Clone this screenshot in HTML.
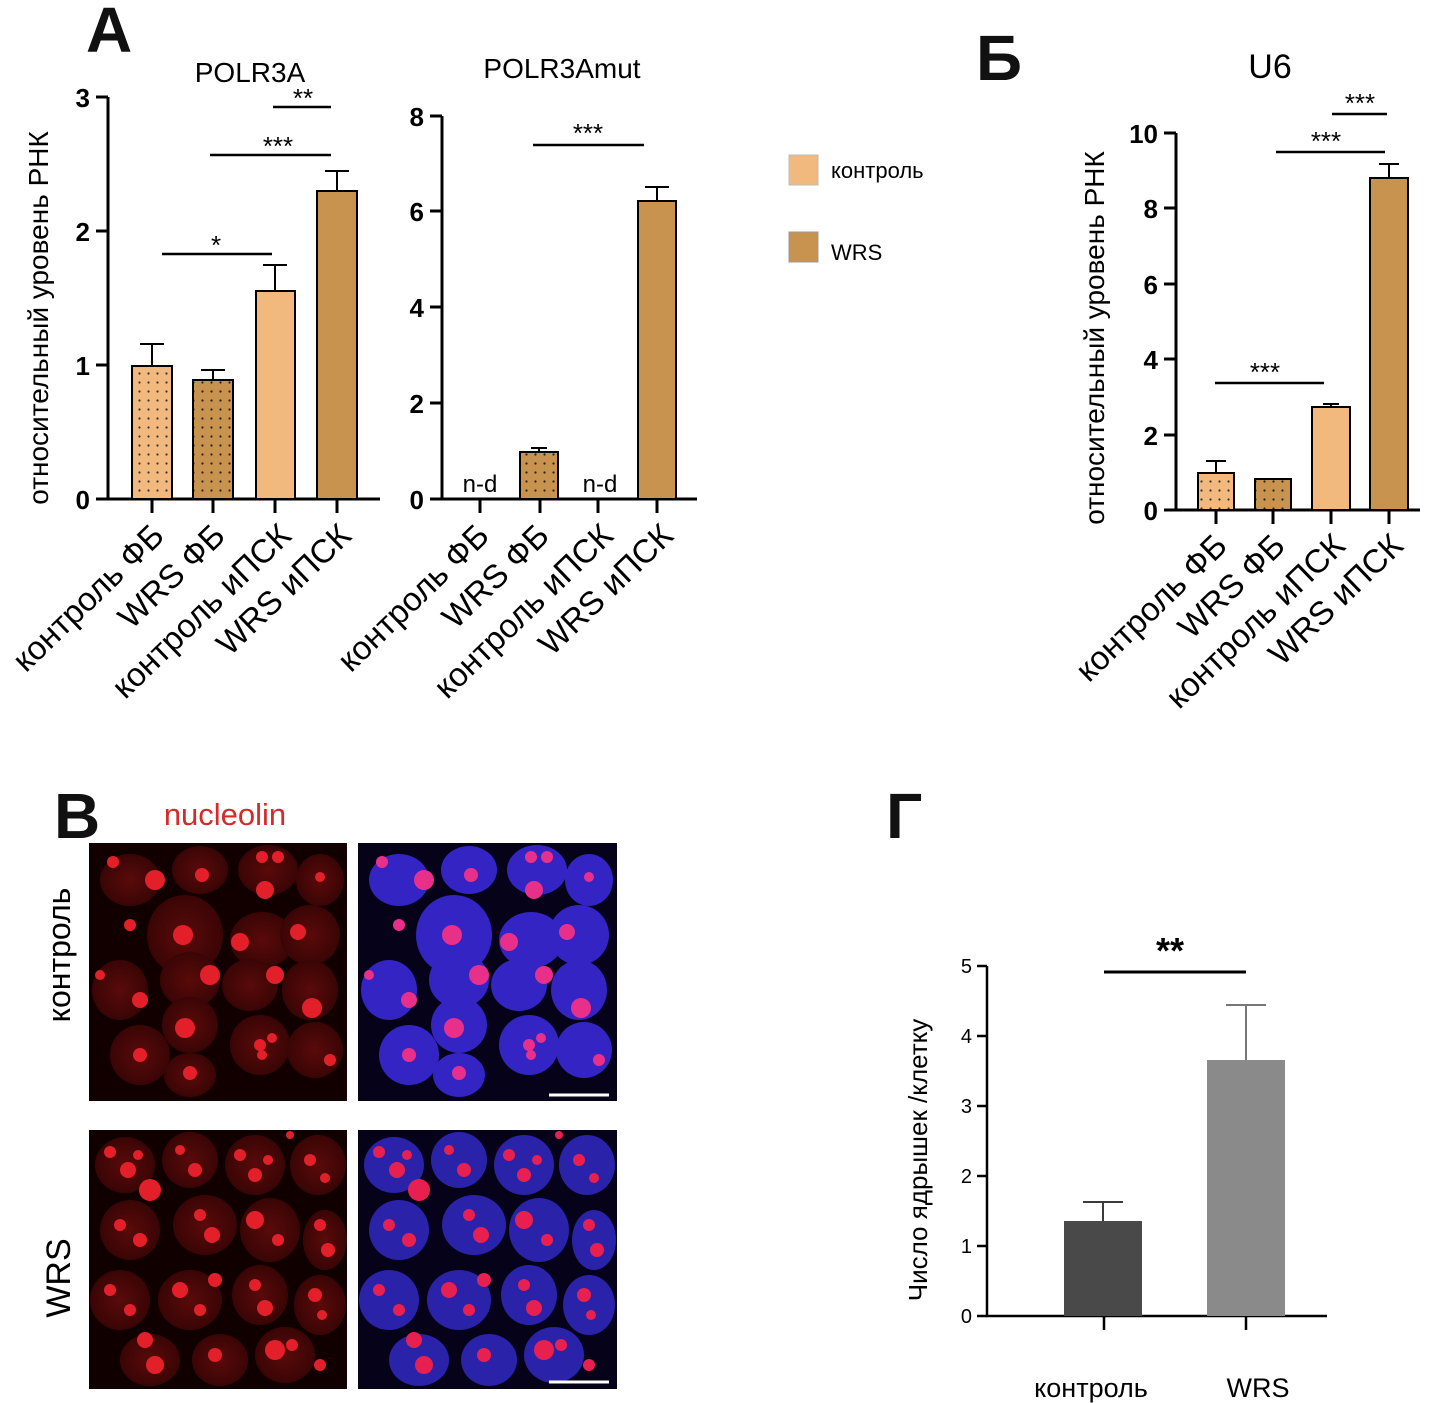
<!DOCTYPE html>
<html><head><meta charset="utf-8"><style>
html,body{margin:0;padding:0;background:#fff}
svg{display:block}
text{font-family:"Liberation Sans",sans-serif}
</style></head><body>
<svg width="1431" height="1403" viewBox="0 0 1431 1403" xmlns="http://www.w3.org/2000/svg">
<defs>
<pattern id="dotL" width="9" height="9" patternUnits="userSpaceOnUse"><rect width="9" height="9" fill="#f2b97e"/><circle cx="4.5" cy="4.5" r="1.1" fill="#333"/></pattern>
<pattern id="dotD" width="9" height="9" patternUnits="userSpaceOnUse"><rect width="9" height="9" fill="#c8924f"/><circle cx="4.5" cy="4.5" r="1.1" fill="#222"/></pattern>
<radialGradient id="cellR"><stop offset="0" stop-color="#5a0a0a"/><stop offset="1" stop-color="#3a0505"/></radialGradient>
<g id="cells1">
<ellipse cx="130" cy="880" rx="30" ry="26"/><ellipse cx="200" cy="870" rx="28" ry="24"/><ellipse cx="268" cy="870" rx="30" ry="25"/><ellipse cx="320" cy="880" rx="24" ry="26"/>
<ellipse cx="185" cy="935" rx="38" ry="40"/><ellipse cx="262" cy="940" rx="32" ry="28"/><ellipse cx="310" cy="935" rx="30" ry="30"/>
<ellipse cx="120" cy="990" rx="28" ry="30"/><ellipse cx="190" cy="980" rx="30" ry="28"/><ellipse cx="250" cy="985" rx="28" ry="26"/><ellipse cx="310" cy="990" rx="28" ry="30"/>
<ellipse cx="140" cy="1055" rx="30" ry="30"/><ellipse cx="190" cy="1025" rx="28" ry="28"/><ellipse cx="260" cy="1045" rx="30" ry="30"/><ellipse cx="315" cy="1050" rx="28" ry="28"/><ellipse cx="190" cy="1075" rx="26" ry="22"/>
</g>
<g id="nuc1">
<circle cx="113" cy="862" r="6"/><circle cx="155" cy="880" r="10"/><circle cx="202" cy="875" r="7"/><circle cx="262" cy="857" r="6"/><circle cx="278" cy="857" r="6"/><circle cx="265" cy="890" r="9"/><circle cx="320" cy="877" r="5"/>
<circle cx="130" cy="925" r="6"/><circle cx="183" cy="935" r="10"/><circle cx="240" cy="942" r="9"/><circle cx="298" cy="932" r="8"/>
<circle cx="100" cy="975" r="5"/><circle cx="140" cy="1000" r="8"/><circle cx="210" cy="975" r="10"/><circle cx="275" cy="975" r="9"/><circle cx="312" cy="1008" r="10"/>
<circle cx="185" cy="1028" r="10"/><circle cx="260" cy="1045" r="6"/><circle cx="272" cy="1038" r="5"/><circle cx="262" cy="1055" r="5"/><circle cx="140" cy="1055" r="7"/><circle cx="190" cy="1073" r="7"/><circle cx="330" cy="1060" r="6"/>
</g>
<g id="cells2">
<ellipse cx="125" cy="1165" rx="30" ry="28"/><ellipse cx="190" cy="1160" rx="28" ry="28"/><ellipse cx="255" cy="1165" rx="30" ry="30"/><ellipse cx="318" cy="1165" rx="28" ry="30"/>
<ellipse cx="130" cy="1230" rx="30" ry="30"/><ellipse cx="205" cy="1225" rx="32" ry="30"/><ellipse cx="270" cy="1230" rx="30" ry="32"/><ellipse cx="325" cy="1240" rx="22" ry="30"/>
<ellipse cx="120" cy="1300" rx="30" ry="30"/><ellipse cx="190" cy="1300" rx="32" ry="30"/><ellipse cx="260" cy="1295" rx="28" ry="30"/><ellipse cx="320" cy="1305" rx="26" ry="30"/>
<ellipse cx="150" cy="1360" rx="30" ry="26"/><ellipse cx="220" cy="1360" rx="28" ry="26"/><ellipse cx="285" cy="1355" rx="30" ry="28"/>
</g>
<g id="nuc2">
<circle cx="110" cy="1152" r="6"/><circle cx="128" cy="1170" r="8"/><circle cx="138" cy="1155" r="5"/><circle cx="180" cy="1150" r="5"/><circle cx="195" cy="1170" r="7"/><circle cx="240" cy="1155" r="6"/><circle cx="255" cy="1175" r="7"/><circle cx="268" cy="1160" r="5"/><circle cx="310" cy="1160" r="6"/><circle cx="325" cy="1178" r="5"/><circle cx="290" cy="1135" r="4"/>
<circle cx="150" cy="1190" r="11"/><circle cx="120" cy="1225" r="6"/><circle cx="140" cy="1240" r="7"/><circle cx="200" cy="1215" r="6"/><circle cx="212" cy="1235" r="8"/><circle cx="255" cy="1220" r="9"/><circle cx="278" cy="1240" r="6"/><circle cx="320" cy="1225" r="6"/><circle cx="328" cy="1250" r="7"/>
<circle cx="110" cy="1290" r="6"/><circle cx="130" cy="1310" r="6"/><circle cx="180" cy="1290" r="8"/><circle cx="200" cy="1310" r="6"/><circle cx="215" cy="1280" r="7"/><circle cx="255" cy="1285" r="6"/><circle cx="265" cy="1308" r="8"/><circle cx="315" cy="1295" r="7"/><circle cx="322" cy="1315" r="5"/>
<circle cx="145" cy="1340" r="8"/><circle cx="155" cy="1365" r="9"/><circle cx="215" cy="1355" r="7"/><circle cx="275" cy="1350" r="10"/><circle cx="292" cy="1345" r="6"/><circle cx="320" cy="1365" r="6"/>
</g>
</defs>
<g font-weight="bold" font-size="64" fill="#111">
<text x="86" y="52">A</text><text x="976" y="80">Б</text><text x="54" y="838">В</text><text x="886" y="838">Г</text>
</g>
<!-- Panel A POLR3A -->
<text x="250" y="82" font-size="28" text-anchor="middle">POLR3A</text>
<text transform="translate(48,318) rotate(-90)" font-size="28" text-anchor="middle">относительный уровень РНК</text>
<g stroke="#000" stroke-width="3" fill="none">
<path d="M108,97 V499 H380"/>
<path d="M96,97H108M96,231H108M96,365H108M96,499H108"/>
<path d="M152,499v14M213,499v14M275,499v14M337,499v14"/>
</g>
<g font-size="26" font-weight="bold" text-anchor="end"><text x="90" y="107">3</text><text x="90" y="241">2</text><text x="90" y="375">1</text><text x="90" y="509">0</text></g>
<g stroke="#000" stroke-width="2">
<rect x="132" y="366" width="40" height="133" fill="url(#dotL)"/>
<rect x="193" y="380" width="40" height="119" fill="url(#dotD)"/>
<rect x="256" y="291" width="39" height="208" fill="#f2b97e"/>
<rect x="317" y="191" width="40" height="308" fill="#c8924f"/>
<path d="M152,366V344M140,344H164M213,380V370M201,370H225M275,291V265M263,265H287M337,191V171M325,171H349"/>
<path d="M162,254H272M210,155H331M273,107H331" stroke-width="2.5"/>
</g>
<g font-size="26" text-anchor="middle"><text x="216" y="254">*</text><text x="278" y="155">***</text><text x="303" y="107">**</text></g>
<g font-size="33" text-anchor="end">
<text transform="translate(166,538) rotate(-44)">контроль ФБ</text>
<text transform="translate(227,538) rotate(-44)">WRS ФБ</text>
<text transform="translate(293,538) rotate(-44)">контроль иПСК</text>
<text transform="translate(353,538) rotate(-44)">WRS иПСК</text>
</g>
<!-- POLR3Amut -->
<text x="562" y="78" font-size="28" text-anchor="middle">POLR3Amut</text>
<g stroke="#000" stroke-width="3" fill="none">
<path d="M442,116 V499 H697"/>
<path d="M430,116H442M430,211H442M430,307H442M430,403H442M430,499H442"/>
<path d="M480,499v14M540,499v14M598,499v14M657,499v14"/>
</g>
<g font-size="26" font-weight="bold" text-anchor="end"><text x="424" y="126">8</text><text x="424" y="221">6</text><text x="424" y="317">4</text><text x="424" y="413">2</text><text x="424" y="509">0</text></g>
<g stroke="#000" stroke-width="2">
<rect x="520" y="452" width="38" height="47" fill="url(#dotD)"/>
<rect x="638" y="201" width="38" height="298" fill="#c8924f"/>
<path d="M539,452V448M531,448H547M657,201V187M645,187H669"/>
<path d="M533,145H644" stroke-width="2.5"/>
</g>
<text x="588" y="142" font-size="26" text-anchor="middle">***</text>
<g font-size="24" text-anchor="middle"><text x="480" y="492">n-d</text><text x="600" y="492">n-d</text></g>
<g font-size="33" text-anchor="end">
<text transform="translate(491,538) rotate(-44)">контроль ФБ</text>
<text transform="translate(551,538) rotate(-44)">WRS ФБ</text>
<text transform="translate(615,538) rotate(-44)">контроль иПСК</text>
<text transform="translate(675,538) rotate(-44)">WRS иПСК</text>
</g>
<!-- legend -->
<rect x="789" y="155" width="29" height="30" fill="#f2b97e" stroke="#bbb"/>
<rect x="789" y="232" width="29" height="30" fill="#c8924f" stroke="#999"/>
<text x="831" y="178" font-size="22">контроль</text>
<text x="831" y="260" font-size="22">WRS</text>
<!-- Panel Б -->
<text x="1270" y="78" font-size="34" text-anchor="middle">U6</text>
<text transform="translate(1104,338) rotate(-90)" font-size="28" text-anchor="middle">относительный уровень РНК</text>
<g stroke="#000" stroke-width="3" fill="none">
<path d="M1176,133 V510 H1420"/>
<path d="M1164,133H1176M1164,208H1176M1164,284H1176M1164,359H1176M1164,435H1176M1164,510H1176"/>
<path d="M1216,510v14M1273,510v14M1331,510v14M1389,510v14"/>
</g>
<g font-size="26" font-weight="bold" text-anchor="end"><text x="1158" y="143">10</text><text x="1158" y="218">8</text><text x="1158" y="294">6</text><text x="1158" y="369">4</text><text x="1158" y="445">2</text><text x="1158" y="520">0</text></g>
<g stroke="#000" stroke-width="2">
<rect x="1198" y="473" width="36" height="37" fill="url(#dotL)"/>
<rect x="1255" y="479" width="36" height="31" fill="url(#dotD)"/>
<rect x="1312" y="407" width="38" height="103" fill="#f2b97e"/>
<rect x="1370" y="178" width="38" height="332" fill="#c8924f"/>
<path d="M1216,473V461M1206,461H1226M1331,407V404M1323,404H1339M1389,178V164M1379,164H1399"/>
<path d="M1215,383H1324M1276,152H1385M1332,114H1387" stroke-width="2.5"/>
</g>
<g font-size="26" text-anchor="middle"><text x="1265" y="381">***</text><text x="1326" y="150">***</text><text x="1360" y="112">***</text></g>
<g font-size="33" text-anchor="end">
<text transform="translate(1229,548) rotate(-44)">контроль ФБ</text>
<text transform="translate(1287,548) rotate(-44)">WRS ФБ</text>
<text transform="translate(1347,548) rotate(-44)">контроль иПСК</text>
<text transform="translate(1405,548) rotate(-44)">WRS иПСК</text>
</g>
<!-- Panel В -->
<text x="225" y="825" font-size="31" fill="#d42a2a" text-anchor="middle">nucleolin</text>
<text transform="translate(70,955) rotate(-90)" font-size="32" text-anchor="middle">контроль</text>
<text transform="translate(70,1278) rotate(-90)" font-size="34" text-anchor="middle">WRS</text>
<rect x="89" y="843" width="258" height="258" fill="#120000"/>
<rect x="358" y="843" width="259" height="258" fill="#05021a"/>
<rect x="89" y="1130" width="258" height="259" fill="#100000"/>
<rect x="358" y="1130" width="259" height="259" fill="#05021a"/>
<use href="#cells1" fill="url(#cellR)"/>
<use href="#nuc1" fill="#e3202a"/>
<use href="#cells1" fill="#3424c4" transform="translate(269,0)"/>
<use href="#nuc1" fill="#e8308a" transform="translate(269,0)"/>
<use href="#cells2" fill="url(#cellR)"/>
<use href="#nuc2" fill="#e3202a"/>
<use href="#cells2" fill="#2a22a8" transform="translate(269,0)"/>
<use href="#nuc2" fill="#e82050" transform="translate(269,0)"/>
<g stroke="#fff" stroke-width="3"><path d="M549,1095H609M549,1382H609"/></g>
<!-- Panel Г -->
<text transform="translate(927,1160) rotate(-90)" font-size="26" text-anchor="middle">Число ядрышек /клетку</text>
<g stroke="#000" stroke-width="2.5" fill="none">
<path d="M987,966 V1316 H1327"/>
<path d="M977,966H987M977,1036H987M977,1106H987M977,1176H987M977,1246H987M977,1316H987"/>
<path d="M1104,1316v14M1246,1316v14"/>
</g>
<g font-size="20" text-anchor="end"><text x="972" y="973">5</text><text x="972" y="1043">4</text><text x="972" y="1113">3</text><text x="972" y="1183">2</text><text x="972" y="1253">1</text><text x="972" y="1323">0</text></g>
<rect x="1064" y="1221" width="78" height="95" fill="#494949"/>
<rect x="1207" y="1060" width="78" height="256" fill="#8a8a8a"/>
<g stroke="#3a3a3a" stroke-width="2"><path d="M1103,1221V1202M1083,1202H1123"/></g>
<g stroke="#777" stroke-width="2"><path d="M1246,1060V1005M1226,1005H1266"/></g>
<path d="M1104,972H1246" stroke="#000" stroke-width="3"/>
<text x="1170" y="963" font-size="36" font-weight="bold" text-anchor="middle">**</text>
<g font-size="27" text-anchor="middle"><text x="1091" y="1397">контроль</text><text x="1258" y="1397">WRS</text></g>
</svg>
</body></html>
